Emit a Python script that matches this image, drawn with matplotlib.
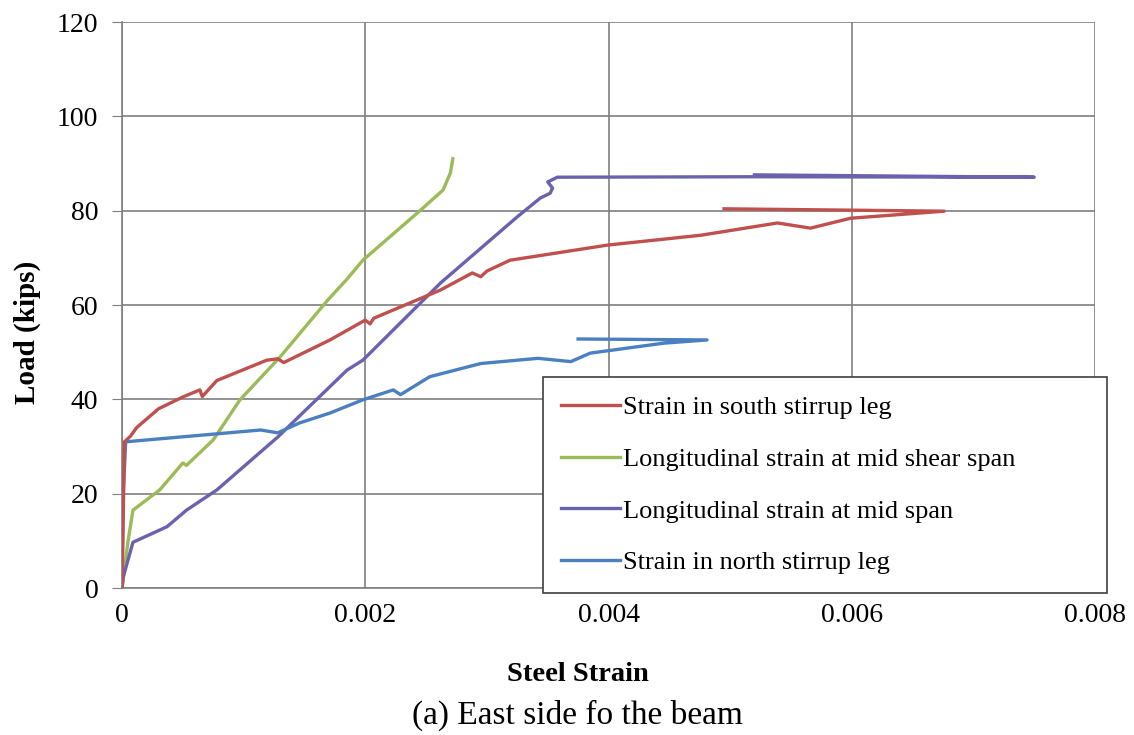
import matplotlib
matplotlib.use("Agg")
import matplotlib.pyplot as plt

plt.rcParams['font.family'] = ['Liberation Serif', 'DejaVu Serif']

# load (kips) vs steel strain, east side of the beam
south_strain = [0.0, 0.00002, 0.00007, 0.00012, 0.00030, 0.00050, 0.00064, 0.00066,
                0.00078, 0.00119, 0.00128, 0.00133, 0.00171, 0.00200, 0.00204, 0.00207,
                0.00262, 0.00288, 0.00295, 0.00300, 0.00319, 0.00399, 0.00476, 0.00539,
                0.00566, 0.00599, 0.00676, 0.00495]
south_load = [0.0, 31.0, 32.2, 34.0, 38.0, 40.5, 42.0, 40.6,
              44.0, 48.3, 48.6, 47.8, 52.6, 56.8, 56.0, 57.2,
              63.2, 66.8, 66.0, 67.2, 69.5, 72.7, 74.8, 77.4,
              76.3, 78.4, 79.9, 80.4]

shear_strain = [0.0, 0.00005, 0.00009, 0.00031, 0.00050, 0.00053, 0.00075, 0.00097,
                0.00130, 0.00169, 0.00185, 0.00198, 0.00245, 0.00264, 0.00270, 0.00272]
shear_load = [0.0, 10.0, 16.5, 20.8, 26.5, 26.0, 31.4, 39.9,
              49.0, 61.0, 65.5, 69.5, 80.0, 84.4, 88.0, 91.0]

mid_strain = [0.0, 0.00001, 0.00009, 0.00037, 0.00053, 0.00078, 0.00128, 0.00185,
              0.00198, 0.00262, 0.00325, 0.00344, 0.00352, 0.00354, 0.00350, 0.00358,
              0.00520, 0.00750, 0.00520]
mid_load = [0.0, 2.3, 9.7, 13.0, 16.5, 20.8, 32.0, 46.2,
            48.3, 64.7, 78.7, 82.7, 83.7, 84.8, 86.1, 87.1,
            87.2, 87.1, 87.6]

north_strain = [0.0, 0.00001, 0.00003, 0.00114, 0.00128, 0.00146, 0.00171, 0.00198,
                0.00223, 0.00229, 0.00253, 0.00295, 0.00342, 0.00369, 0.00385, 0.00445,
                0.00481, 0.00375]
north_load = [0.0, 20.0, 31.0, 33.5, 32.9, 35.0, 37.1, 39.9,
              42.0, 41.0, 44.8, 47.6, 48.7, 48.0, 49.8, 51.9,
              52.6, 52.8]

labels = ["Strain in south stirrup leg",
          "Longitudinal strain at mid shear span",
          "Longitudinal strain at mid span",
          "Strain in north stirrup leg"]
colors = ["#C0504D", "#9BBB59", "#6A62AE", "#4A80C0"]

fig = plt.figure(figsize=(11.34, 7.35), dpi=100)
ax = fig.add_axes([0.1076, 0.2, 0.858, 0.77])

ax.plot(south_strain, south_load, color=colors[0], lw=2.4, label=labels[0], zorder=4)
ax.plot(shear_strain, shear_load, color=colors[1], lw=2.4, label=labels[1], zorder=3)
ax.plot(mid_strain, mid_load, color=colors[2], lw=2.4, label=labels[2], zorder=3)
ax.plot(north_strain, north_load, color=colors[3], lw=2.4, label=labels[3], zorder=3)

ax.set_xlim(0, 0.008)
ax.set_ylim(0, 120)
ax.set_xticks([0, 0.002, 0.004, 0.006, 0.008])
ax.set_xticklabels(["0", "0.002", "0.004", "0.006", "0.008"])
ax.set_yticks(range(0, 121, 20))
ax.grid(True, color="#7f7f7f", lw=1.2)
ax.set_axisbelow(True)
for s in ["top", "right"]:
    ax.spines[s].set_visible(False)
for s in ["left", "bottom"]:
    ax.spines[s].set_color("#7f7f7f")
    ax.spines[s].set_linewidth(1.2)
ax.tick_params(axis="y", length=7, color="#7f7f7f", labelsize=20, pad=10)
ax.tick_params(axis="x", length=0, labelsize=20, pad=11)

fig.text(0.024, 0.548, "Load (kips)", rotation=90, ha="center", va="center",
         fontsize=21, fontweight="bold")
fig.text(0.51, 0.082, "Steel Strain", ha="center", va="center",
         fontsize=20.5, fontweight="bold")
fig.text(0.509, 0.027, "(a) East side fo the beam", ha="center", va="center",
         fontsize=24)

leg = ax.legend(loc="upper left", bbox_to_anchor=(543/1134, 1-378/735, 564/1134, 0.001),
                bbox_transform=fig.transFigure, mode="expand", fontsize=19,
                handlelength=2.2, handletextpad=0.15, labelspacing=1.07,
                borderpad=0.7, borderaxespad=0, fancybox=False, framealpha=1)
leg.get_frame().set_edgecolor("#404040")
leg.get_frame().set_linewidth(1.2)

plt.savefig("out.png", dpi=100)
